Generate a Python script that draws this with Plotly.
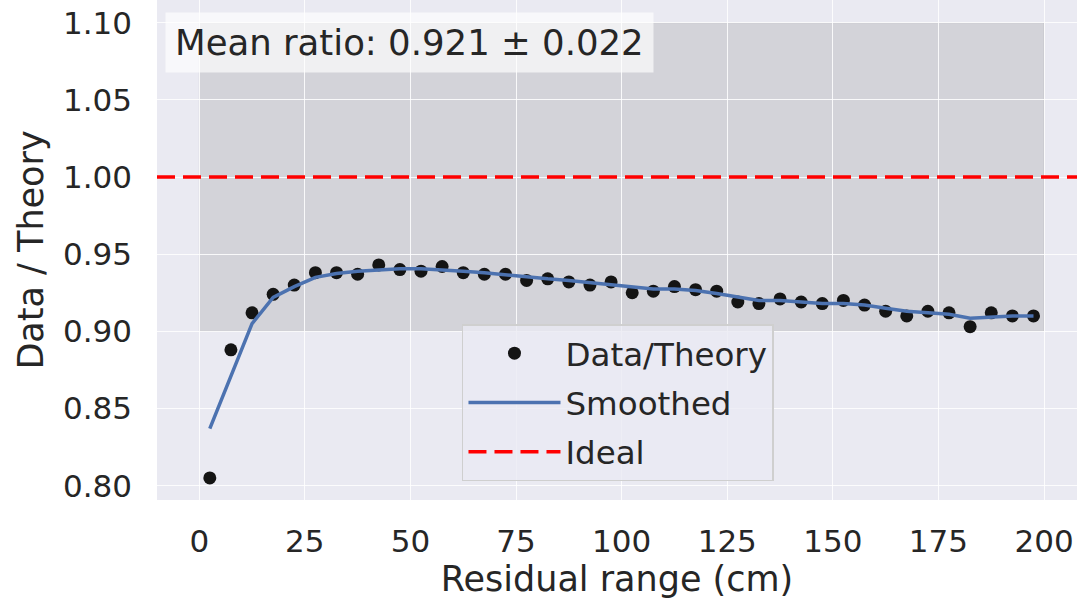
import plotly.graph_objects as go

# ---------------- data ----------------
residual_range = [2.5, 7.5, 12.5, 17.5, 22.5, 27.5, 32.5, 37.5, 42.5, 47.5,
                  52.5, 57.5, 62.5, 67.5, 72.5, 77.5, 82.5, 87.5, 92.5, 97.5,
                  102.5, 107.5, 112.5, 117.5, 122.5, 127.5, 132.5, 137.5, 142.5, 147.5,
                  152.5, 157.5, 162.5, 167.5, 172.5, 177.5, 182.5, 187.5, 192.5, 197.5]
ratio = [0.805, 0.888, 0.912, 0.924, 0.930, 0.938, 0.938, 0.937, 0.943, 0.940,
         0.939, 0.942, 0.938, 0.937, 0.937, 0.933, 0.934, 0.932, 0.930, 0.932,
         0.925, 0.926, 0.929, 0.927, 0.926, 0.919, 0.918, 0.921, 0.919, 0.918,
         0.920, 0.917, 0.913, 0.910, 0.913, 0.912, 0.903, 0.912, 0.910, 0.910]
smoothed = [0.837, 0.871, 0.905, 0.922, 0.929, 0.935, 0.9375, 0.939, 0.940, 0.9405,
            0.9405, 0.940, 0.939, 0.938, 0.9365, 0.935, 0.934, 0.933, 0.9315, 0.930,
            0.9285, 0.9275, 0.9275, 0.9265, 0.9245, 0.922, 0.920, 0.920, 0.919, 0.918,
            0.918, 0.917, 0.915, 0.913, 0.912, 0.911, 0.9085, 0.9095, 0.910, 0.910]
ideal_value = 1.0
band_x = [0, 200]
band_y = [0.90, 1.10]
mean_ratio = 0.921
std_ratio = 0.022
x_ticks = [0, 25, 50, 75, 100, 125, 150, 175, 200]
y_ticks = [0.80, 0.85, 0.90, 0.95, 1.00, 1.05, 1.10]

FONT = "DejaVu Sans"
TXT = "#262626"

fig = go.Figure()

fig.add_trace(go.Scatter(
    x=residual_range, y=ratio, mode="markers", name="Data/Theory",
    marker=dict(color="#141414", size=13), legendgroup="a"))
fig.add_trace(go.Scatter(
    x=residual_range, y=smoothed, mode="lines", name="Smoothed",
    line=dict(color="#4c72b0", width=3.5), legendgroup="b"))
fig.add_trace(go.Scatter(
    x=[None], y=[None], mode="lines", name="Ideal",
    line=dict(color="red", width=3.5, dash="18px,8px"), legendgroup="c"))

# shaded +/-10% band
fig.add_shape(type="rect", xref="x", yref="y",
              x0=band_x[0], x1=band_x[1], y0=band_y[0], y1=band_y[1],
              fillcolor="rgba(128,128,128,0.21)",
              line=dict(color="rgba(128,128,128,0.15)", width=1), layer="below")
# ideal line across full width
fig.add_shape(type="line", xref="paper", yref="y", x0=0, x1=1,
              y0=ideal_value, y1=ideal_value,
              line=dict(color="red", width=3.5, dash="18px,8px"))

fig.add_annotation(
    xref="paper", yref="paper", x=0.009, y=0.976, xanchor="left", yanchor="top",
    text=f"Mean ratio: {mean_ratio:.3f} ± {std_ratio:.3f}", showarrow=False,
    font=dict(family=FONT, size=35.5, color=TXT),
    bgcolor="rgba(255,255,255,0.65)", borderpad=9, align="left")

fig.update_layout(
    width=1077, height=600,
    margin=dict(l=157, r=0, t=0, b=100, autoexpand=False),
    paper_bgcolor="white", plot_bgcolor="#eaeaf2",
    font=dict(family=FONT, color=TXT),
    showlegend=True,
    legend=dict(x=0.3315, y=0.352, xanchor="left", yanchor="top",
                bgcolor="rgba(234,234,242,0.8)", bordercolor="#cfcfcf", borderwidth=1.5,
                font=dict(family=FONT, size=32.5, color=TXT),
                tracegroupgap=4, itemwidth=92, traceorder="grouped"),
)
fig.update_xaxes(
    range=[-10, 207.8], tickvals=x_ticks, ticktext=[str(v) for v in x_ticks],
    showgrid=True, gridcolor="rgba(255,255,255,0.85)", gridwidth=1.2, zeroline=False,
    showline=False, ticks="", ticklabelstandoff=20,
    tickfont=dict(family=FONT, size=31, color=TXT),
    title=dict(text="Residual range (cm)", font=dict(family=FONT, size=35, color=TXT), standoff=8))
fig.update_yaxes(
    range=[0.7907, 1.1147], tickvals=y_ticks, ticktext=[f"{v:.2f}" for v in y_ticks],
    showgrid=True, gridcolor="rgba(255,255,255,0.85)", gridwidth=1.2, zeroline=False,
    showline=False, ticks="", ticklabelstandoff=24,
    tickfont=dict(family=FONT, size=31, color=TXT),
    title=dict(text="Data / Theory", font=dict(family=FONT, size=35, color=TXT), standoff=8))

fig.write_html("out.html", config={"displayModeBar": False},
               post_script="document.body.style.margin='0';")
